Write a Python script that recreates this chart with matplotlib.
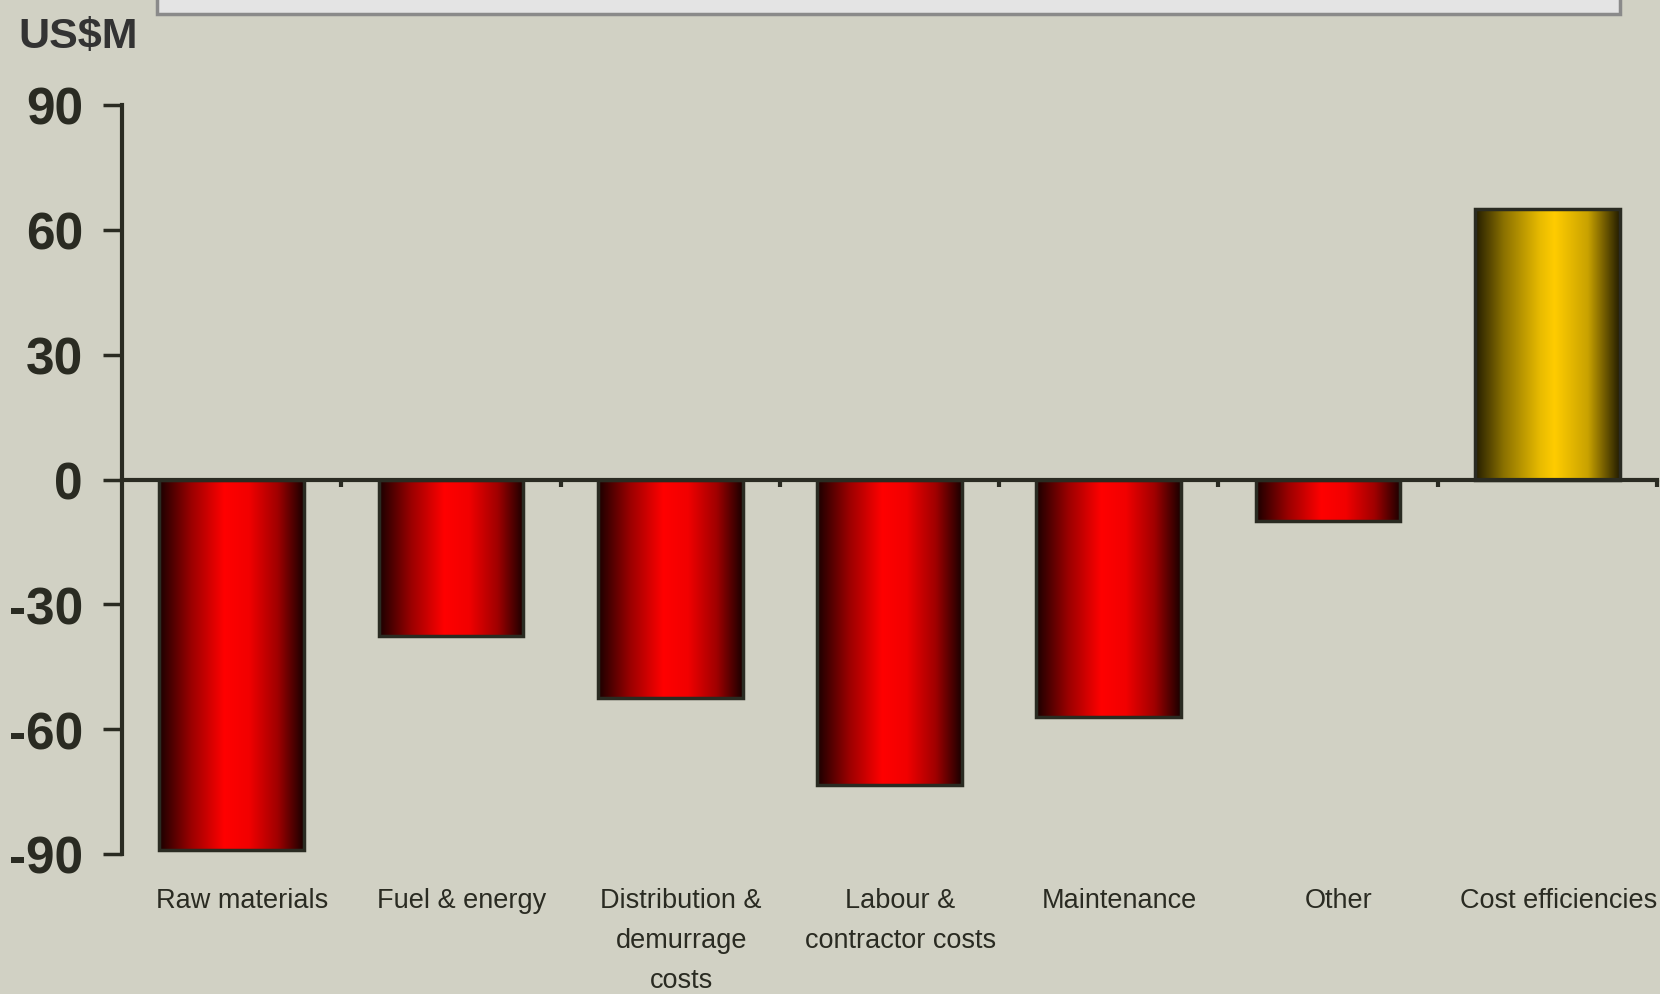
import matplotlib
matplotlib.use('Agg')
import matplotlib.pyplot as plt
import numpy as np
from matplotlib.colors import LinearSegmentedColormap
from matplotlib.patches import Rectangle
from matplotlib import font_manager

categories = ['Raw materials', 'Fuel & energy', 'Distribution &\ndemurrage\ncosts',
              'Labour &\ncontractor costs', 'Maintenance', 'Other', 'Cost efficiencies']
values = [-89, -37.5, -52.5, -73.5, -57, -10, 65]
yticks = [-90, -60, -30, 0, 30, 60, 90]

names = {f.name for f in font_manager.fontManager.ttflist}
narrow = 'Liberation Sans Narrow' if 'Liberation Sans Narrow' in names else 'Liberation Sans'

bg = '#d1d1c4'
ink = '#2a2b22'

red = LinearSegmentedColormap.from_list('red', [
    (0.0, '#1a0000'), (0.22, '#9a0000'), (0.45, '#ff0000'),
    (0.62, '#f20000'), (0.82, '#a00000'), (1.0, '#1a0000')])
gold = LinearSegmentedColormap.from_list('gold', [
    (0.0, '#241d00'), (0.2, '#8c7200'), (0.45, '#e8bb00'),
    (0.55, '#ffcc00'), (0.78, '#c9a200'), (1.0, '#241d00')])

fig = plt.figure(figsize=(16.6, 9.95), dpi=100, facecolor=bg)
ax = fig.add_axes([122/1660, 1 - 855/995, (1657 - 122)/1660, (855 - 106)/995])
ax.set_facecolor(bg)

# title box, cut off at the top of the picture
fig.patches.append(Rectangle((157/1660, 1 - 15/995), (1620 - 157)/1660, 0.1,
                             transform=fig.transFigure, facecolor='#e4e4e4',
                             edgecolor='#8a8a8a', linewidth=2.5, zorder=0))

grad = np.linspace(0, 1, 256).reshape(1, -1)
w = 0.66
for i, v in enumerate(values):
    x0 = i + 0.5 - w/2
    cmap = gold if v > 0 else red
    ax.imshow(grad, extent=[x0, x0 + w, min(0, v), max(0, v)], aspect='auto',
              cmap=cmap, zorder=2, interpolation='bilinear')
    ax.bar(i + 0.5, v, width=w, facecolor='none', edgecolor=ink, linewidth=2.5, zorder=3)

ax.set_xlim(0, 7)
ax.set_ylim(-90, 90)

for s in ['top', 'right']:
    ax.spines[s].set_visible(False)
ax.spines['bottom'].set_position(('data', 0))
ax.spines['bottom'].set_zorder(4)
for s in ['left', 'bottom']:
    ax.spines[s].set_color(ink)
    ax.spines[s].set_linewidth(3)

ax.set_yticks(yticks)
ax.set_yticklabels([str(t) for t in yticks], fontsize=37, fontweight='bold',
                   family=[narrow, 'DejaVu Sans'], color=ink)
ax.tick_params(axis='y', length=14, width=2.5, color=ink, pad=14)
ax.set_xticks(range(1, 8))
ax.set_xticklabels([])
ax.tick_params(axis='x', direction='out', length=5, width=3, color=ink)

for i, c in enumerate(categories):
    ax.text(i + 0.55, -0.044, c, transform=ax.get_xaxis_transform(), ha='center', va='top',
            fontsize=19.5, family=[narrow, 'DejaVu Sans'], color=ink, linespacing=1.7)

fig.text(18/1660, 1 - 48/995, 'US$M', fontsize=31, fontweight='bold',
         family=[narrow, 'DejaVu Sans'], color='#333333', ha='left', va='baseline')

fig.savefig('out.png', dpi=100, facecolor=bg)
